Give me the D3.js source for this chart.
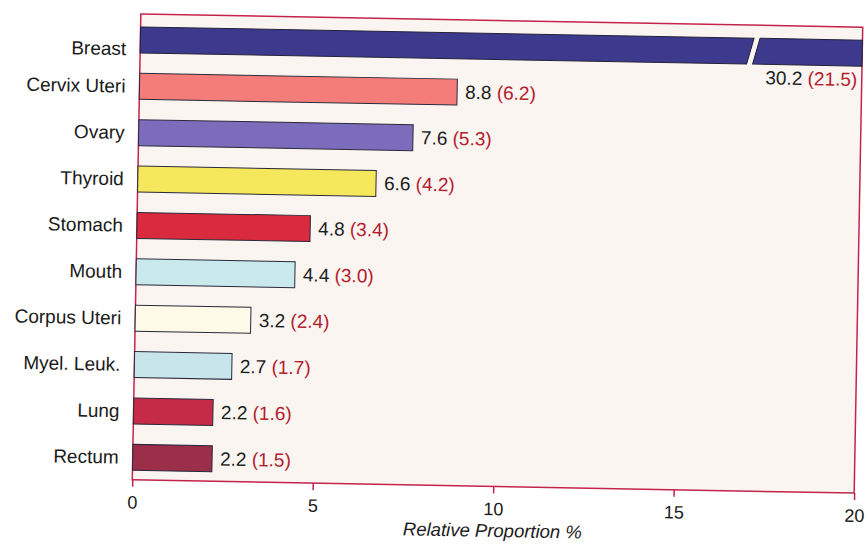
<!DOCTYPE html>
<html><head><meta charset="utf-8">
<script src="https://cdn.jsdelivr.net/npm/d3@7"></script>
<style>body{margin:0;background:#fff;} text{font-family:"Liberation Sans",Arial,sans-serif;}</style>
</head><body>
<svg id="c" width="867" height="544"></svg>
<script>
const categories = ["Breast","Cervix Uteri","Ovary","Thyroid","Stomach","Mouth","Corpus Uteri","Myel. Leuk.","Lung","Rectum"];
const values = [30.2, 8.8, 7.6, 6.6, 4.8, 4.4, 3.2, 2.7, 2.2, 2.2];
const secondary = ["21.5","6.2","5.3","4.2","3.4","3.0","2.4","1.7","1.6","1.5"];
const colors = ["#3d3a8e","#f47d7a","#7c6cbc","#f6e85c","#d92a3e","#c9e9ed","#fdfbe7","#c7e5eb","#c52b47","#9b2e48"];
const xTicks = [0,5,10,15,20];
const axisBreak = 16.9;

const svg = d3.select("#c");
const L = 136.5, R = 858.5, T = 20.5, B = 486.5;
const FS = 19;
// the scanned original is tilted by about one degree
const root = svg.append("g").attr("transform", `rotate(1.05, ${(L+R)/2}, ${(T+B)/2})`);

const x = d3.scaleLinear().domain([0,20]).range([L,R]);
const y = d3.scaleBand().domain(categories).range([33.5,477]).paddingInner(0.44).paddingOuter(0);

root.append("rect").attr("x",L).attr("y",T).attr("width",R-L).attr("height",B-T)
  .attr("fill","#fbf5f2").attr("stroke","#c4234c").attr("stroke-width",1.5);

const g = root.append("g");
const bw = y.bandwidth();
categories.forEach((c,i)=>{
  const y0 = y(c), y1 = y0+bw;
  let labelDy = 0;
  if (values[i] > 20) {
    const xb = x(axisBreak), s = 3.5, gap = 6;
    g.append("path").attr("d",`M${x(0)},${y0}L${xb+s},${y0}L${xb-s},${y1}L${x(0)},${y1}Z`)
      .attr("fill",colors[i]).attr("stroke","#23233a").attr("stroke-width",1);
    g.append("path").attr("d",`M${xb+s+gap},${y0}L${x(20)},${y0}L${x(20)},${y1}L${xb-s+gap},${y1}Z`)
      .attr("fill",colors[i]).attr("stroke","#23233a").attr("stroke-width",1);
    const t = g.append("text").attr("x",x(20)-4.5).attr("y",y1+20).attr("text-anchor","end")
      .attr("font-size",FS).attr("fill","#1e1e1e");
    t.append("tspan").text(values[i].toFixed(1)+" ");
    t.append("tspan").attr("fill","#b3202c").text("("+secondary[i]+")");
    labelDy = 9;
  } else {
    g.append("rect").attr("x",x(0)).attr("y",y0).attr("width",x(values[i])-x(0)).attr("height",bw)
      .attr("fill",colors[i]).attr("stroke","#2a2a3a").attr("stroke-width",1);
    const t = g.append("text").attr("x",x(values[i])+8).attr("y",y0+bw/2+6.5)
      .attr("font-size",FS).attr("fill","#1e1e1e");
    t.append("tspan").text(values[i].toFixed(1)+" ");
    t.append("tspan").attr("fill","#b3202c").text("("+secondary[i]+")");
  }
  root.append("text").attr("x",122.5).attr("y",y0+bw/2+6.5+labelDy).attr("text-anchor","end")
    .attr("font-size",FS).attr("fill","#1a1a1a").text(c);
});

const ax = root.append("g").attr("transform",`translate(0,${B})`)
  .call(d3.axisBottom(x).tickValues(xTicks).tickSize(7).tickPadding(9).tickFormat(d3.format("d")));
ax.select(".domain").remove();
ax.selectAll(".tick line").attr("stroke","#c4234c").attr("stroke-width",1.5);
ax.selectAll(".tick text").attr("font-size",18).attr("fill","#1a1a1a")
  .attr("font-family","'Liberation Sans',Arial,sans-serif");

root.append("text").attr("x",(L+R)/2).attr("y",537).attr("text-anchor","middle")
  .attr("font-size",18.5).attr("font-style","italic").attr("fill","#1a1a1a").text("Relative Proportion %");
</script>
</body></html>
